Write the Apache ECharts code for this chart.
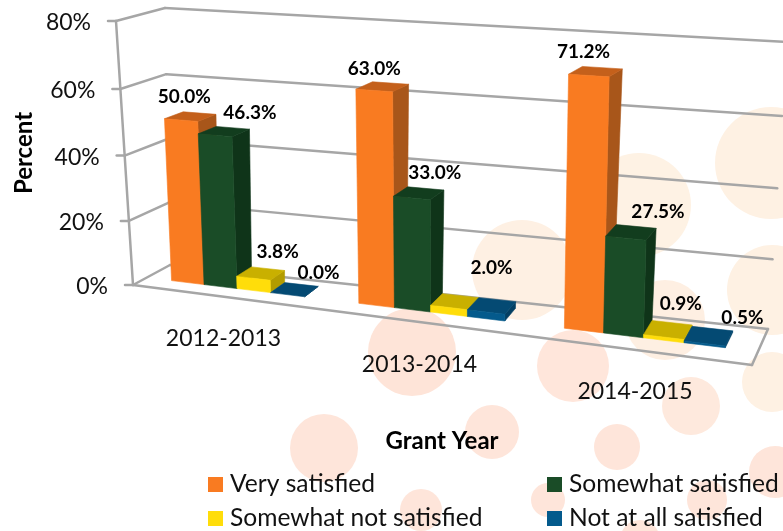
<!DOCTYPE html>
<html>
<head>
<meta charset="utf-8">
<style>
	html,body{margin:0;padding:0;background:#fff;}
	#main{width:783px;height:531px;}
</style>
<script src="https://cdn.jsdelivr.net/npm/echarts@6/dist/echarts.min.js"></script>
</head>
<body>
<div id="main"></div>
<script>
//chart data
var categories = ['2012-2013','2013-2014','2014-2015'];
var tickValues = [0,20,40,60,80];
var verySatisfied = [50.0,63.0,71.2];
var somewhatSatisfied = [46.3,33.0,27.5];
var somewhatNotSatisfied = [3.8,2.0,0.9];
var notAtAllSatisfied = [0.0,2.0,0.5];
//the yellow bar of 2013-2014 has no label in the picture
var hiddenLabels = {'2-1':true};

//label offset from the middle of each bar top, one row per series
var labelOffsets = [
	[[-6,-20],[-8,-18],[-12,-20]],
	[[26,-19],[16,-20],[27,-20]],
	[[17,-22],[0,0],[13,-26]],
	[[24,-17],[0,-38],[34,-18]]
];

//decoration behind the chart: cx, cy, r, colour
var bgCircles = [
	[771,163,56,'#fef1e3'],[639,205,52,'#fef2e4'],[522,270,50,'#fef0e3'],
	[772,290,45,'#fef1e3'],[665,320,40,'#feefe2'],[573,366,36,'#ffe6db'],
	[772,382,30,'#fef1e3'],[691,406,29,'#fee9dd'],[412,352,44,'#fee4d8'],
	[324,448,34,'#fee5da'],[492,432,27,'#fee5da'],[617,447,23,'#fee5da'],
	[775,472,26,'#fee5da'],[421,510,21,'#fee5da'],[548,500,17,'#fee5da'],
	[707,500,20,'#fee5da'],[640,540,20,'#fee5da']
];

//corners of the 3D box on screen
var FLB = [133,285], FLT = [116,21], BLB = [170,265], BLT = [165,8];
var FRB = [752,365], FRT = [761,60], BRB = [768,329], BRT = [787,42];
var perspectiveK = 0.153;
var heightK = 0.04;
var groupFrac = 0.72;
var depthFront = 0.37, depthBack = 0.8;
var fontName = 'Lato';

function lerp(a,b,f){
	return [a[0]+(b[0]-a[0])*f, a[1]+(b[1]-a[1])*f];
}
//x is foreshortened towards the left, height towards the floor
function warpX(t){
	return t/(1+perspectiveK*(1-t));
}
function warpV(v){
	return v/(1+heightK*(1-v));
}
//t across, v up, d into the picture, all 0..1
function project(t,v,d){
	var s = warpX(t);
	var h = warpV(v);
	var front = lerp(lerp(FLB,FLT,h),lerp(FRB,FRT,h),s);
	var back = lerp(lerp(BLB,BLT,h),lerp(BRB,BRT,h),s);
	return lerp(front,back,d);
}
function toV(pixelY,cs){
	return (cs.y+cs.height-pixelY)/cs.height;
}
function lineEl(a,b){
	return {
		type:'line',
		shape:{x1:a[0],y1:a[1],x2:b[0],y2:b[1]},
		style:{stroke:'#a6a6a6',lineWidth:2.5,lineCap:'round'}
	};
}
function polyEl(points,color){
	return {
		type:'polygon',
		shape:{points:points},
		style:{fill:color,stroke:color,lineWidth:0.6}
	};
}

/*
 * walls, floor and y tick labels
 */
function renderFrame(params,api){
	var cs = params.coordSys;
	var tick = api.value(1);
	var v = toV(api.coord([0,tick])[1],cs);
	var children = [
		lineEl(project(0,v,1),project(1,v,1)),
		lineEl(project(0,v,0),project(0,v,1))
	];
	var p = project(0,v,0);
	children.push(lineEl([p[0]-8,p[1]],p));
	children.push({
		type:'text',
		style:{
			text:tick+'%',x:p[0]-25,y:p[1]+2,align:'right',verticalAlign:'middle',
			font:'23px '+fontName,fill:'#111'
		}
	});
	if(tick == 0){
		children.push(lineEl(project(0,0,0),project(1,0,0)));
		children.push(lineEl(project(1,0,0),project(1,0,1)));
		children.push(lineEl(project(0,0,0),project(0,1,0)));
	}
	return {type:'group',children:children};
}

/*
 * category labels under the floor
 */
function renderCategory(params,api){
	var cs = params.coordSys;
	var t = (api.coord([api.value(0),0])[0]-cs.x)/cs.width;
	var p = project(t,0,0);
	return {
		type:'text',
		style:{
			text:categories[api.value(0)],x:p[0]-1,y:p[1]+42,align:'center',verticalAlign:'middle',
			font:'23px '+fontName,fill:'#111'
		}
	};
}

/*
 * one 3D bar: side, top and front faces plus its label
 */
function barRenderer(order,colors){
	return function(params,api){
		var cs = params.coordSys;
		var cat = api.value(0);
		var val = api.value(1);
		var base = api.coord([cat,0]);
		var top = api.coord([cat,val]);
		var band = api.size([1,0])[0]/cs.width;
		var center = (base[0]-cs.x)/cs.width;
		var t0 = center-groupFrac*band/2+order*groupFrac*band/4;
		var t1 = t0+groupFrac*band/4;
		var v = toV(top[1],cs);
		var a = project(t0,0,depthFront), b = project(t1,0,depthFront);
		var c = project(t1,v,depthFront), d = project(t0,v,depthFront);
		var e = project(t1,0,depthBack), f = project(t1,v,depthBack), g = project(t0,v,depthBack);
		var children = [
			polyEl([b,e,f,c],colors[2]),
			polyEl([d,c,f,g],colors[1])
		];
		if(val > 0){
			children.push(polyEl([a,b,c,d],colors[0]));
		}
		if(!hiddenLabels[order+'-'+cat]){
			var mid = project((t0+t1)/2,v,(depthFront+depthBack)/2);
			var off = labelOffsets[order][cat];
			children.push({
				type:'text',
				z2:50,
				style:{
					text:val.toFixed(1)+'%',x:mid[0]+off[0],y:mid[1]+off[1],align:'center',verticalAlign:'middle',
					font:'bold 19px '+fontName,fill:'#000'
				}
			});
		}
		return {type:'group',children:children};
	};
}
function barData(values){
	var list = [];
	for(var i = 0; i < values.length; i++){
		list.push([i,values[i]]);
	}
	return list;
}
function barSeries(name,values,order,colors){
	return {
		name:name,
		type:'custom',
		z:3,
		silent:true,
		itemStyle:{color:colors[0]},
		renderItem:barRenderer(order,colors),
		data:barData(values)
	};
}
//one legend per entry, so the two columns line up
function legendEntry(name,left,top){
	return {
		data:[name],
		left:left,top:top,padding:0,itemWidth:15,itemHeight:15,
		icon:'rect',selectedMode:false,
		textStyle:{fontFamily:fontName,fontSize:24.6,lineHeight:24,color:'#111',padding:[0,0,0,2]}
	};
}

var graphicList = [];
for(var i = 0; i < bgCircles.length; i++){
	graphicList.push({
		type:'circle',
		z:-10,
		silent:true,
		shape:{cx:bgCircles[i][0],cy:bgCircles[i][1],r:bgCircles[i][2]},
		style:{fill:bgCircles[i][3]}
	});
}
graphicList.push({
	type:'text',z:5,rotation:Math.PI/2,x:24,y:153,
	style:{text:'Percent',align:'center',verticalAlign:'middle',font:'bold 24px '+fontName,fill:'#000'}
});
graphicList.push({
	type:'text',z:5,x:442,y:441,
	style:{text:'Grant Year',align:'center',verticalAlign:'middle',font:'bold 24px '+fontName,fill:'#000'}
});

var tickData = [];
for(var j = 0; j < tickValues.length; j++){
	tickData.push([0,tickValues[j]]);
}
var categoryData = [];
for(var n = 0; n < categories.length; n++){
	categoryData.push([n,0]);
}

var option = {
	animation:false,
	backgroundColor:'#fff',
	graphic:{elements:graphicList},
	grid:{left:100,top:40,width:600,height:300},
	xAxis:{type:'category',data:categories,show:false},
	yAxis:{type:'value',min:0,max:80,interval:20,show:false},
	legend:[
		legendEntry('Very satisfied',208,472),
		legendEntry('Somewhat not satisfied',208,506),
		legendEntry('Somewhat satisfied',547,472),
		legendEntry('Not at all satisfied',547,506)
	],
	series:[
		{type:'custom',z:1,silent:true,renderItem:renderFrame,data:tickData},
		{type:'custom',z:2,silent:true,renderItem:renderCategory,data:categoryData},
		barSeries('Very satisfied',verySatisfied,0,['#f97b21','#c4601b','#a8561a']),
		barSeries('Somewhat satisfied',somewhatSatisfied,1,['#1a4c27','#123d1e','#0f3419']),
		barSeries('Somewhat not satisfied',somewhatNotSatisfied,2,['#ffdd0a','#c9b000','#b39c00']),
		barSeries('Not at all satisfied',notAtAllSatisfied,3,['#045a8c','#044a73','#033f63'])
	]
};
var chart = echarts.init(document.getElementById('main'));
chart.setOption(option);
</script>
</body>
</html>
